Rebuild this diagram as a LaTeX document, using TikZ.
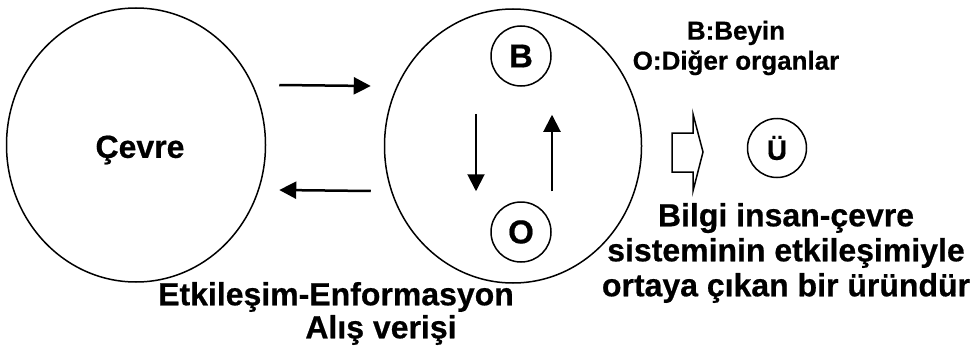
\documentclass[tikz,border=0pt]{standalone}
\usepackage{fontspec}
\setmainfont{Liberation Sans}[BoldFeatures={FakeBold=0.6}]
\usetikzlibrary{arrows.meta,shapes.geometric}
\begin{document}
\begin{tikzpicture}[x=1pt,y=-1pt,
    big/.style={draw, ellipse, line width=1.5pt, minimum width=259pt, minimum height=274pt, inner sep=0pt},
    organ/.style={draw, circle, line width=1.5pt, minimum size=60pt, inner sep=0pt, font=\fontsize{33}{33}\selectfont\bfseries},
    txt/.style={inner sep=0pt, font=\fontsize{32}{35}\selectfont\bfseries, align=center},
    note/.style={inner sep=0pt, font=\fontsize{26}{30}\selectfont\bfseries, align=center},
    arr/.style={-{Triangle[length=17pt,width=17pt]}, line width=2.5pt}]
    \useasboundingbox (0,0) rectangle (974,353);
    % iki buyuk daire
    \node[big] (cevre) at (136,145) {};
    \node[txt] (cevretxt) at (140,150) {Çevre};
    \node[big, minimum width=257pt] (sistem) at (513,146) {};
    \node[organ] (B) at (521,56) {B};
    \node[organ] (O) at (521,232) {O};
    % etkilesim oklari
    \draw[arr] ([shift={(13,-60)}]cevre.east) -- ([shift={(-13,-60)}]sistem.west);
    \draw[arr] ([shift={(-13,45)}]sistem.west) -- ([shift={(13,45)}]cevre.east);
    \draw[arr, line width=2pt] ([shift={(-45,27)}]B.south) -- ([shift={(-45,-10)}]O.north);
    \draw[arr, line width=2pt] ([shift={(31,-10)}]O.north) -- ([shift={(31,28)}]B.south);
    % bos ok ve urun
    \draw[line width=1.5pt, line join=miter] (672,133) -- (693,133) -- (693,114) -- (703,152)
        -- (693,191) -- (693,172) -- (672,172) -- cycle;
    \node[organ, minimum size=59pt, font=\fontsize{28}{28}\selectfont\bfseries] (U) at (777,148) {Ü};
    % yazilar
    \node[note] (aciklama) at (736,48) {B:Beyin\\O:Diğer organlar};
    \node[txt] (etk) at (336,297) {Etkileşim-Enformasyon};
    \node[txt] (alis) at (381,330) {Alış verişi};
    \node[txt] (bilgi) at (786,253) {Bilgi insan-çevre\\sisteminin etkileşimiyle\\ortaya çıkan bir üründür};
\end{tikzpicture}
\end{document}
